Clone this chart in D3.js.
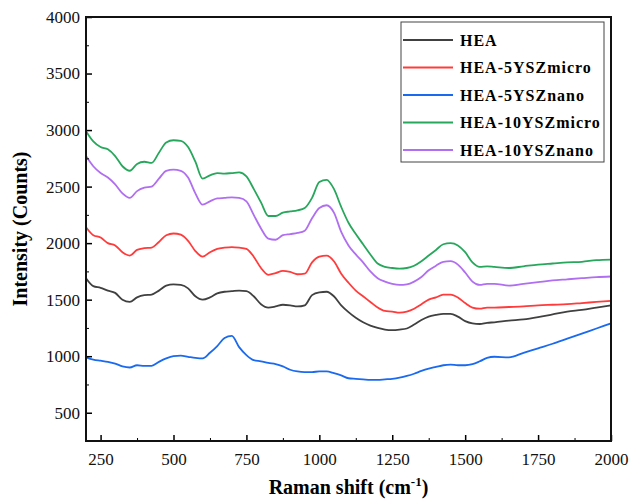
<!DOCTYPE html>
<html>
<head>
<meta charset="utf-8">
<script src="https://cdn.jsdelivr.net/npm/d3@7"></script>
<style>
  body { margin: 0; background: #fff; }
  svg text { font-family: "Liberation Serif", "Times New Roman", serif; }
</style>
</head>
<body>
<div id="chart"></div>
<script>
// Raman shift grid (cm-1), shared by every spectrum
const shift = [200,225,250,275,300,325,350,375,400,425,450,475,500,525,550,575,600,625,650,675,700,725,750,775,800,825,850,875,900,925,950,975,1000,1025,1050,1075,1100,1125,1150,1175,1200,1225,1250,1275,1300,1325,1350,1375,1400,1425,1450,1475,1500,1525,1550,1575,1600,1650,1700,1750,1800,1850,1900,1950,2000];

const hea = [1690,1620,1605,1580,1560,1500,1480,1520,1540,1545,1580,1625,1635,1630,1600,1530,1500,1520,1555,1570,1575,1580,1575,1530,1460,1430,1440,1455,1450,1440,1450,1540,1565,1570,1530,1450,1390,1340,1300,1270,1250,1235,1230,1235,1245,1280,1320,1350,1365,1375,1375,1350,1310,1290,1285,1295,1300,1315,1325,1345,1370,1395,1410,1430,1450];
const ysz5micro = [2140,2070,2050,2000,1980,1920,1890,1940,1955,1960,2010,2070,2085,2075,2020,1930,1880,1920,1950,1960,1965,1960,1950,1880,1780,1720,1735,1755,1745,1725,1730,1830,1880,1890,1840,1730,1650,1580,1530,1480,1430,1400,1395,1385,1395,1420,1460,1500,1520,1545,1545,1520,1470,1430,1420,1430,1430,1435,1440,1450,1455,1460,1470,1480,1490];
const ysz5nano = [990,970,960,950,935,910,900,920,915,915,950,980,1000,1005,995,985,980,1030,1090,1160,1180,1080,1010,965,955,940,930,910,880,865,860,860,865,865,850,830,805,800,795,790,790,795,800,810,825,845,870,890,905,920,925,920,920,930,955,985,995,990,1030,1070,1110,1155,1200,1245,1290];
const ysz10micro = [2990,2900,2850,2830,2770,2680,2640,2700,2720,2710,2800,2890,2910,2905,2850,2720,2570,2600,2620,2615,2620,2625,2590,2480,2360,2240,2240,2270,2280,2290,2310,2400,2540,2560,2480,2320,2180,2080,1990,1900,1820,1790,1780,1775,1780,1800,1840,1890,1940,1990,2000,1980,1920,1830,1790,1795,1790,1780,1795,1810,1820,1830,1835,1850,1855];
const ysz10nano = [2770,2680,2620,2580,2520,2440,2400,2460,2490,2500,2570,2640,2650,2640,2580,2440,2340,2370,2395,2400,2405,2400,2370,2250,2130,2040,2030,2070,2080,2090,2110,2220,2310,2335,2270,2100,1980,1900,1830,1750,1690,1660,1640,1630,1635,1660,1700,1760,1800,1835,1840,1810,1740,1660,1630,1640,1640,1625,1640,1655,1670,1680,1690,1700,1705];

const seriesNames = ['HEA', 'HEA-5YSZmicro', 'HEA-5YSZnano', 'HEA-10YSZmicro', 'HEA-10YSZnano'];
const seriesValues = [hea, ysz5micro, ysz5nano, ysz10micro, ysz10nano];
const seriesColors = ['#404040', '#ff3b3b', '#1a6af0', '#27a75c', '#b06ef0'];

const xTicks = [250,500,750,1000,1250,1500,1750,2000];
const yTicks = [500,1000,1500,2000,2500,3000,3500,4000];

const width = 629, height = 500;
const margin = { top: 17, right: 18, bottom: 59, left: 86 };
const innerW = width - margin.left - margin.right;
const innerH = height - margin.top - margin.bottom;

const serif = '"Liberation Serif", "Times New Roman", serif';

const svg = d3.select('#chart').append('svg')
    .attr('width', width)
    .attr('height', height);

const chart = svg.append('g')
    .attr('transform', `translate(${margin.left}, ${margin.top})`);

const xscale = d3.scaleLinear().domain([200, 2000]).range([0, innerW]);
const yscale = d3.scaleLinear().domain([250, 4000]).range([innerH, 0]);

// lines
const line = d3.line()
    .x(d => xscale(d[0]))
    .y(d => yscale(d[1]))
    .curve(d3.curveMonotoneX);

seriesValues.forEach((vals, i) => {
    chart.append('path')
        .datum(shift.map((s, j) => [s, vals[j]]))
        .attr('fill', 'none')
        .attr('stroke', seriesColors[i])
        .attr('stroke-width', 1.8)
        .attr('d', line);
});

// axes, ticks pointing inward
const xMinor = xTicks.map(t => t + 125).filter(t => t < 2000);
const yMinor = yTicks.map(t => t - 250).filter(t => t > 250);
const fmt = d3.format('d');

const xaxis = chart.append('g')
    .attr('transform', `translate(0, ${innerH})`)
    .call(d3.axisBottom(xscale).tickValues(xTicks).tickFormat(fmt)
        .tickSizeInner(-6).tickSizeOuter(0).tickPadding(12));
chart.append('g')
    .attr('transform', `translate(0, ${innerH})`)
    .call(d3.axisBottom(xscale).tickValues(xMinor).tickSizeInner(-3).tickSizeOuter(0).tickFormat(''))
    .select('.domain').remove();

const yaxis = chart.append('g')
    .call(d3.axisLeft(yscale).tickValues(yTicks).tickFormat(fmt)
        .tickSizeInner(-6).tickSizeOuter(0).tickPadding(6));
chart.append('g')
    .call(d3.axisLeft(yscale).tickValues(yMinor).tickSizeInner(-3).tickSizeOuter(0).tickFormat(''))
    .select('.domain').remove();

[xaxis, yaxis].forEach(a => {
    a.attr('font-family', serif).attr('font-size', 17);
    a.selectAll('text').attr('fill', '#111');
    a.selectAll('line').attr('stroke-width', 1.5);
});

// frame
chart.append('rect')
    .attr('width', innerW)
    .attr('height', innerH)
    .attr('fill', 'none')
    .attr('stroke', '#111')
    .attr('stroke-width', 2);

// axis titles
const xtitle = svg.append('text')
    .attr('x', margin.left + innerW / 2)
    .attr('y', 494)
    .attr('text-anchor', 'middle')
    .attr('font-size', 20)
    .attr('font-weight', 'bold');
xtitle.append('tspan').text('Raman shift (cm');
xtitle.append('tspan').attr('font-size', 13).attr('dy', -8).text('-1');
xtitle.append('tspan').attr('dy', 8).text(')');

svg.append('text')
    .attr('transform', `translate(27, 229) rotate(-90)`)
    .attr('text-anchor', 'middle')
    .attr('font-size', 20)
    .attr('font-weight', 'bold')
    .text('Intensity (Counts)');

// legend
const legend = svg.append('g').attr('transform', 'translate(401, 22)');
legend.append('rect')
    .attr('width', 203)
    .attr('height', 140)
    .attr('fill', '#fff')
    .attr('stroke', '#444')
    .attr('stroke-width', 1);

seriesNames.forEach((name, i) => {
    const y = 18 + i * 27.5;
    legend.append('line')
        .attr('x1', 2).attr('x2', 52)
        .attr('y1', y).attr('y2', y)
        .attr('stroke', seriesColors[i])
        .attr('stroke-width', 1.8);
    legend.append('text')
        .attr('x', 59)
        .attr('y', y + 5.5)
        .attr('font-size', 16)
        .attr('font-weight', 'bold')
        .attr('letter-spacing', 1)
        .text(name);
});
</script>
</body>
</html>
